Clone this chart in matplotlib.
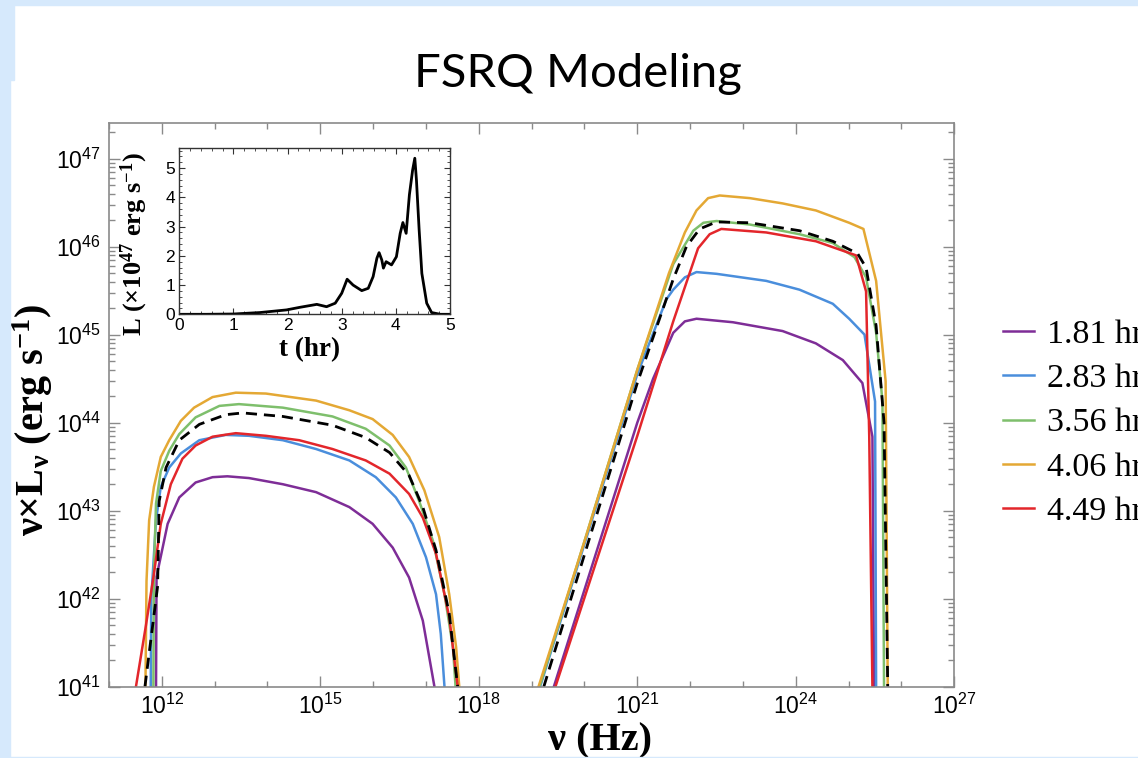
import numpy as np
import matplotlib
matplotlib.use("Agg")
import matplotlib.pyplot as plt
from matplotlib.ticker import FixedLocator, FuncFormatter, MultipleLocator
from matplotlib.patches import Rectangle

plt.rcParams['mathtext.fontset'] = 'custom'
plt.rcParams['mathtext.default'] = 'regular'

# log10(nu/Hz), log10(nu L_nu / erg s^-1)
# synchrotron hump
syn_181_x = [11.89, 11.90, 12.11, 12.33, 12.64, 12.96, 13.24, 13.65, 14.29, 14.92, 15.55, 15.99, 16.37, 16.68, 16.94, 17.16]
syn_181_y = [41.0, 42.25, 42.85, 43.15, 43.32, 43.38, 43.39, 43.37, 43.30, 43.21, 43.04, 42.85, 42.58, 42.24, 41.75, 41.0]
syn_283_x = [11.79, 11.80, 11.89, 11.98, 12.14, 12.36, 12.71, 13.21, 13.65, 14.29, 14.92, 15.55, 16.05, 16.43, 16.75, 17.0, 17.19, 17.28, 17.35]
syn_283_y = [41.0, 42.0, 42.89, 43.27, 43.49, 43.65, 43.80, 43.86, 43.85, 43.80, 43.70, 43.57, 43.38, 43.15, 42.85, 42.47, 42.05, 41.6, 41.0]
syn_356_x = [11.84, 11.85, 11.89, 11.98, 12.14, 12.33, 12.64, 13.09, 13.46, 14.29, 15.23, 15.86, 16.31, 16.62, 16.87, 17.13, 17.35, 17.51, 17.56]
syn_356_y = [41.0, 42.3, 43.08, 43.45, 43.68, 43.87, 44.06, 44.19, 44.21, 44.17, 44.07, 43.93, 43.74, 43.49, 43.11, 42.66, 42.05, 41.45, 41.0]
syn_406_x = [11.69, 11.71, 11.76, 11.85, 11.98, 12.14, 12.36, 12.61, 12.96, 13.40, 13.97, 14.92, 15.55, 15.99, 16.37, 16.68, 16.97, 17.25, 17.44, 17.57, 17.63]
syn_406_y = [41.0, 42.2, 42.89, 43.27, 43.61, 43.80, 44.02, 44.17, 44.29, 44.34, 44.33, 44.25, 44.14, 44.04, 43.86, 43.61, 43.23, 42.70, 42.05, 41.45, 41.0]
syn_449_x = [11.51, 11.70, 11.85, 11.98, 12.17, 12.39, 12.64, 12.96, 13.40, 13.97, 14.60, 15.23, 15.86, 16.31, 16.68, 16.94, 17.19, 17.44, 17.60]
syn_449_y = [41.0, 41.70, 42.28, 42.85, 43.30, 43.59, 43.74, 43.84, 43.88, 43.85, 43.80, 43.70, 43.57, 43.42, 43.19, 42.92, 42.51, 41.79, 41.0]
syn_tot_x = [11.68, 11.92, 11.95, 12.08, 12.33, 12.71, 13.21, 13.53, 14.29, 15.23, 15.86, 16.31, 16.68, 16.94, 17.19, 17.44, 17.60]
syn_tot_y = [41.0, 42.14, 43.11, 43.49, 43.80, 43.98, 44.09, 44.11, 44.07, 43.97, 43.83, 43.66, 43.40, 43.04, 42.55, 41.83, 41.0]

# inverse Compton hump
ic_181_x = [19.42, 21.0, 21.3, 21.68, 21.9, 22.12, 22.81, 23.75, 24.38, 24.89, 25.26, 25.45, 25.48]
ic_181_y = [41.0, 44.0, 44.5, 45.02, 45.15, 45.18, 45.14, 45.04, 44.90, 44.71, 44.45, 43.84, 41.0]
ic_283_x = [19.16, 21.0, 21.55, 21.68, 21.9, 22.12, 22.5, 23.44, 24.07, 24.70, 25.01, 25.30, 25.50, 25.52]
ic_283_y = [41.0, 44.55, 45.40, 45.51, 45.65, 45.71, 45.69, 45.61, 45.51, 45.35, 45.18, 45.0, 44.24, 41.0]
ic_356_x = [19.15, 21.0, 21.68, 22.06, 22.25, 22.5, 23.13, 24.07, 24.70, 25.11, 25.33, 25.52, 25.64, 25.67]
ic_356_y = [41.0, 44.6, 45.8, 46.18, 46.27, 46.29, 46.25, 46.14, 46.04, 45.88, 45.65, 45.02, 44.24, 41.0]
ic_406_x = [19.13, 20.0, 21.0, 21.6, 21.9, 22.12, 22.34, 22.56, 23.13, 23.75, 24.38, 25.01, 25.28, 25.52, 25.70, 25.74]
ic_406_y = [41.0, 42.65, 44.6, 45.7, 46.16, 46.41, 46.55, 46.58, 46.55, 46.49, 46.41, 46.27, 46.20, 45.61, 44.47, 41.0]
ic_449_x = [19.45, 21.0, 21.68, 22.15, 22.37, 22.59, 23.44, 24.38, 25.14, 25.33, 25.39, 25.45]
ic_449_y = [41.0, 43.85, 45.15, 45.98, 46.14, 46.20, 46.16, 46.06, 45.90, 45.49, 43.84, 41.0]
ic_tot_x = [19.23, 21.0, 21.68, 21.93, 22.18, 22.5, 23.13, 24.07, 24.70, 25.17, 25.33, 25.52, 25.67, 25.74]
ic_tot_y = [41.0, 44.45, 45.63, 46.0, 46.2, 46.28, 46.27, 46.18, 46.06, 45.92, 45.76, 45.1, 44.0, 41.0]

labels = ["1.81 hr", "2.83 hr", "3.56 hr", "4.06 hr", "4.49 hr"]
colors = ["#7E2D97", "#4A8EDC", "#7EBF6C", "#E4A834", "#E3262B"]

# light curve for the inset
t_hr = [0, 0.5, 1.0, 1.49, 1.98, 2.23, 2.54, 2.72, 2.88, 3.0, 3.1, 3.21, 3.37, 3.49, 3.58, 3.65, 3.69,
        3.74, 3.77, 3.82, 3.92, 4.01, 4.08, 4.13, 4.19, 4.25, 4.31, 4.35, 4.38, 4.43, 4.48, 4.57, 4.66, 4.82, 5.0]
L_47 = [0, 0, 0.01, 0.06, 0.15, 0.24, 0.34, 0.26, 0.38, 0.72, 1.2, 1.0, 0.81, 0.89, 1.29, 1.92, 2.11,
        1.86, 1.58, 1.8, 1.69, 1.97, 2.77, 3.14, 2.77, 4.09, 4.94, 5.34, 4.6, 2.89, 1.4, 0.38, 0.06, 0, 0]

W, H = 1138, 758
fig = plt.figure(figsize=(W / 100, H / 100), dpi=100)

# slide background bits
bg = "#D6E9FC"
fig.patches.append(Rectangle((0, 1 - 5 / H), 1, 5 / H, transform=fig.transFigure, color=bg, zorder=0))
fig.patches.append(Rectangle((0, 0), 10 / W, 1, transform=fig.transFigure, color=bg, zorder=0))
fig.patches.append(Rectangle((0, 1 - 80 / H), 14 / W, 80 / H, transform=fig.transFigure, color=bg, zorder=0))
fig.patches.append(Rectangle((0, 0), 1, 1.5 / H, transform=fig.transFigure, color=bg, zorder=0))

fig.text(578 / W, 1 - 87 / H, "FSRQ Modeling", family="Lato", fontsize=34, ha="center", va="baseline")

ax = fig.add_axes([109 / W, 1 - 686.7 / H, (954.3 - 109) / W, (686.7 - 123.3) / H])
ax.set_xscale("log")
ax.set_yscale("log")

syn_x = [syn_181_x, syn_283_x, syn_356_x, syn_406_x, syn_449_x]
syn_y = [syn_181_y, syn_283_y, syn_356_y, syn_406_y, syn_449_y]
ic_x = [ic_181_x, ic_283_x, ic_356_x, ic_406_x, ic_449_x]
ic_y = [ic_181_y, ic_283_y, ic_356_y, ic_406_y, ic_449_y]

handles = []
for i in range(5):
    h, = ax.plot(10 ** np.array(syn_x[i]), 10 ** np.array(syn_y[i]), color=colors[i], lw=1.8, label=labels[i])
    ax.plot(10 ** np.array(ic_x[i]), 10 ** np.array(ic_y[i]), color=colors[i], lw=1.8)
    handles.append(h)
ax.plot(10 ** np.array(syn_tot_x), 10 ** np.array(syn_tot_y), color="black", lw=2.0, ls=(0, (4, 2.5)))
ax.plot(10 ** np.array(ic_tot_x), 10 ** np.array(ic_tot_y), color="black", lw=2.0, ls=(0, (4, 2.5)))

ax.set_xlim(1e11, 1e27)
ax.set_ylim(1e41, 10 ** 47.4)

ax.xaxis.set_major_locator(FixedLocator([10.0 ** k for k in range(12, 28, 3)]))
ax.xaxis.set_minor_locator(FixedLocator([10.0 ** k for k in range(11, 28)]))
ax.yaxis.set_major_locator(FixedLocator([10.0 ** k for k in range(41, 48)]))
ax.yaxis.set_minor_locator(FixedLocator([m * 10.0 ** k for k in range(40, 48) for m in range(2, 10)]))
fmt = FuncFormatter(lambda v, p: r"$10^{%d}$" % round(np.log10(v)))
ax.xaxis.set_major_formatter(fmt)
ax.yaxis.set_major_formatter(fmt)
ax.xaxis.set_minor_formatter(FuncFormatter(lambda v, p: ""))
ax.yaxis.set_minor_formatter(FuncFormatter(lambda v, p: ""))

frame_c = "#8A8A8A"
for s in ax.spines.values():
    s.set_color(frame_c)
    s.set_linewidth(1.2)
ax.tick_params(which="both", direction="in", top=True, right=True, color=frame_c, width=1.0)
ax.tick_params(which="major", length=8)
ax.tick_params(which="minor", length=4.5)
ax.tick_params(axis="y", which="major", pad=6)
ax.tick_params(axis="x", which="major", pad=5)
for lab in ax.get_xticklabels() + ax.get_yticklabels():
    lab.set_family("Liberation Sans")
    lab.set_fontsize(16.5)

ax.set_ylabel(r"ν×L$_ν$ (erg s$^{-1}$)", family="Liberation Serif", fontweight="bold", fontsize=29)
ax.yaxis.set_label_coords(-0.064, 0.473)
ax.set_xlabel(r"ν (Hz)", family="Liberation Serif", fontweight="bold", fontsize=29)
ax.xaxis.set_label_coords(0.581, -0.063)

fig.legend(handles=handles, loc="center left", bbox_to_anchor=(1003 / W, 1 - 423 / H),
           frameon=False, borderpad=0, borderaxespad=0, handlelength=0.9, handletextpad=0.4,
           labelspacing=0.39, prop={"family": "Liberation Serif", "size": 24.5})

# inset light curve
ins = fig.add_axes([179.3 / W, 1 - 314.3 / H, (450 - 179.3) / W, (314.3 - 148.3) / H])
ins.plot(t_hr, L_47, color="black", lw=2.0)
ins.set_xlim(0, 5)
ins.set_ylim(0, 5.68)
ins.xaxis.set_major_locator(MultipleLocator(1))
ins.xaxis.set_minor_locator(MultipleLocator(0.2))
ins.yaxis.set_major_locator(MultipleLocator(1))
ins.yaxis.set_minor_locator(MultipleLocator(0.2))
for s in ins.spines.values():
    s.set_color("#333333")
    s.set_linewidth(1.0)
ins.tick_params(which="both", direction="in", top=True, right=True, color="#333333")
ins.tick_params(which="major", length=4, pad=3)
ins.tick_params(which="minor", length=2)
for lab in ins.get_xticklabels() + ins.get_yticklabels():
    lab.set_family("Liberation Sans")
    lab.set_fontsize(12.5)
ins.set_ylabel(r"L (×10$^{47}$ erg s$^{-1}$)", family="Liberation Serif", fontweight="bold", fontsize=19)
ins.yaxis.set_label_coords(-0.108, 0.423)
ins.set_xlabel("t (hr)", family="Liberation Serif", fontweight="bold", fontsize=19.5)
ins.xaxis.set_label_coords(0.483, -0.137)

fig.savefig("out.png", dpi=100)
